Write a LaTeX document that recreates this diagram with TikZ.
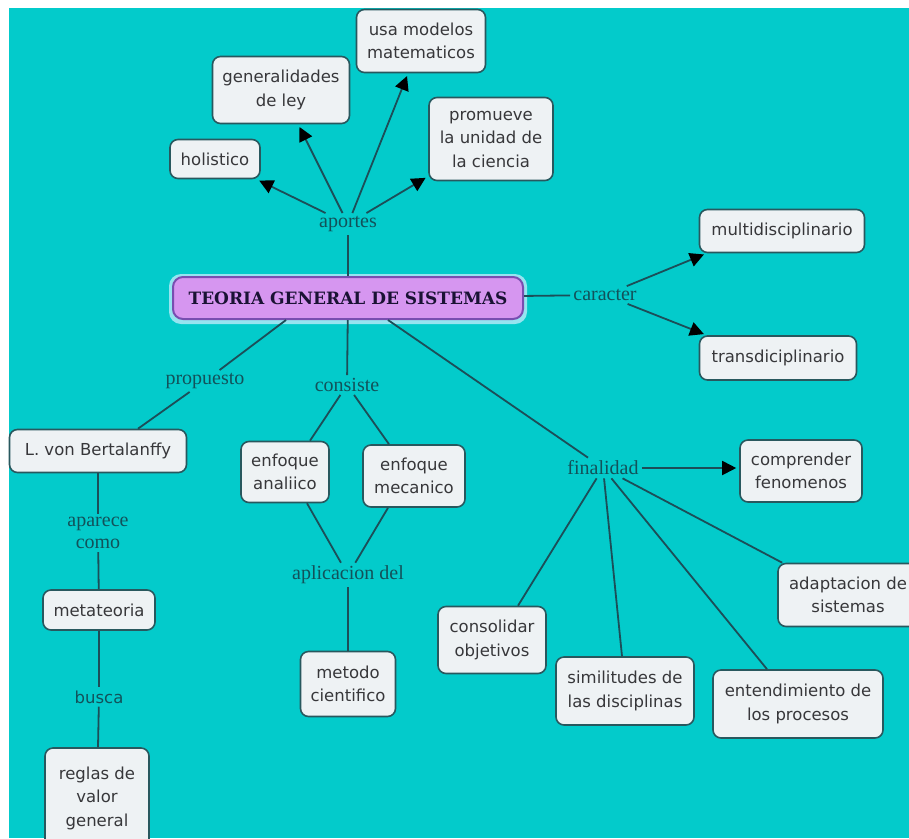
\documentclass[tikz,border=0pt]{standalone}
\usepackage{fontspec}
\setmainfont{Liberation Serif}
\newfontfamily\boxfont{DejaVu Sans}
\newfontfamily\titlefont{DejaVu Serif}
\usetikzlibrary{arrows.meta}

\definecolor{sea}{RGB}{3,203,203}
\definecolor{boxfill}{RGB}{238,242,244}
\definecolor{boxedge}{RGB}{40,88,94}
\definecolor{boxtext}{RGB}{55,55,58}
\definecolor{linkcol}{RGB}{28,78,88}
\definecolor{lblcol}{RGB}{18,82,90}
\definecolor{titlefill}{RGB}{214,150,240}
\definecolor{titleedge}{RGB}{120,78,176}
\definecolor{titletext}{RGB}{26,18,52}
\definecolor{glow}{RGB}{150,228,240}

\tikzset{
  concept/.style={draw=boxedge, line width=1.6pt, fill=boxfill, rounded corners=8pt,
    font=\boxfont\fontsize{16.5}{23.5}\selectfont, text=boxtext, align=center, inner sep=0pt},
  lbl/.style={font=\fontsize{20}{22}\selectfont, text=lblcol, inner sep=3pt, align=center},
  link/.style={draw=linkcol, line width=1.8pt},
  arrowlink/.style={link, -{Triangle[length=14pt,width=14pt,color=black]}, shorten >=3pt},
}

\begin{document}
\begin{tikzpicture}[x=1pt,y=-1pt]
\useasboundingbox (0,0) rectangle (909,838);
\fill[white] (0,0) rectangle (909,838);
\fill[sea] (9,8) rectangle (909,838);

% central concept with its light halo
\fill[glow, rounded corners=12pt] (169,274) rectangle (527,324);
\node[draw=titleedge, line width=2pt, fill=titlefill, rounded corners=10pt,
      minimum width=350pt, minimum height=42pt, inner sep=0pt, text=titletext,
      font=\titlefont\bfseries\fontsize{17}{20}\selectfont] (tgs) at (348,298)
      {TEORIA GENERAL DE SISTEMAS};

% linking phrases
\node[lbl] (aportes)   at (348,224) {aportes};
\node[lbl] (caracter)  at (605,295) {caracter};
\node[lbl] (propuesto) at (205,381) {propuesto};
\node[lbl] (consiste)  at (347,385) {consiste};
\node[lbl] (finalidad) at (603,468) {finalidad};
\node[lbl] (aparece)   at (98,533) {aparece\\como};
\node[lbl] (aplic)     at (348,575) {aplicacion del};
\node[lbl, font=\boxfont\fontsize{16.5}{20}\selectfont] (busca) at (99,697) {busca};

% concepts
\node[concept, minimum width=90pt,  minimum height=39pt] (holis)  at (215,159) {holistico};
\node[concept, minimum width=137pt, minimum height=67pt] (gener)  at (281,90)  {generalidades\\de ley};
\node[concept, minimum width=129pt, minimum height=63pt] (modelo) at (421,41)  {usa modelos\\matematicos};
\node[concept, minimum width=124pt, minimum height=83pt] (unidad) at (491,139) {promueve\\la unidad de\\la ciencia};
\node[concept, minimum width=165pt, minimum height=43pt] (multi)  at (782,231) {multidisciplinario};
\node[concept, minimum width=157pt, minimum height=44pt] (trans)  at (778,358) {transdiciplinario};
\node[concept, minimum width=177pt, minimum height=43pt] (lvb)    at (98,451)  {L. von Bertalanffy};
\node[concept, minimum width=112pt, minimum height=40pt] (meta)   at (99,610)  {metateoria};
\node[concept, minimum width=104pt, minimum height=100pt] (reglas) at (97,798) {reglas de\\valor\\general};
\node[concept, minimum width=88pt,  minimum height=61pt] (analit) at (285,472) {enfoque\\analiico};
\node[concept, minimum width=102pt, minimum height=62pt] (mecan)  at (414,476) {enfoque\\mecanico};
\node[concept, minimum width=95pt,  minimum height=65pt] (metodo) at (348,684) {metodo\\cientifico};
\node[concept, minimum width=122pt, minimum height=62pt] (compr)  at (801,471) {comprender\\fenomenos};
\node[concept, minimum width=140pt, minimum height=63pt] (adapt)  at (848,595) {adaptacion de\\sistemas};
\node[concept, minimum width=108pt, minimum height=67pt] (conso)  at (492,640) {consolidar\\objetivos};
\node[concept, minimum width=138pt, minimum height=68pt] (simil)  at (625,691) {similitudes de\\las disciplinas};
\node[concept, minimum width=170pt, minimum height=68pt] (enten)  at (798,704) {entendimiento de\\los procesos};

% aportes
\draw[link] (tgs) -- (aportes);
\draw[arrowlink] (aportes) -- (holis);
\draw[arrowlink] (aportes) -- (gener);
\draw[arrowlink] (aportes) -- (modelo);
\draw[arrowlink] (aportes) -- (unidad);

% caracter
\draw[link] (tgs) -- (caracter);
\draw[arrowlink] (caracter) -- ([xshift=8pt]multi.south west);
\draw[arrowlink] (caracter) -- ([xshift=8pt]trans.north west);

% propuesto
\draw[link] ([xshift=-62pt]tgs.south) -- (propuesto);
\draw[link] (propuesto) -- ([xshift=40pt]lvb.north);
\draw[link] (lvb) -- (aparece);
\draw[link] (aparece) -- (meta);
\draw[link] (meta) -- (busca);
\draw[link] (busca) -- (reglas);

% consiste
\draw[link] (tgs) -- (consiste);
\draw[link] (consiste) -- ([xshift=25pt]analit.north);
\draw[link] (consiste) -- ([xshift=-25pt]mecan.north);
\draw[link] ([xshift=22pt]analit.south) -- (aplic);
\draw[link] ([xshift=-26pt]mecan.south) -- (aplic);
\draw[link] (aplic) -- (metodo);

% finalidad
\draw[link] ([xshift=40pt]tgs.south) -- (finalidad);
\draw[arrowlink] (finalidad) -- (finalidad -| compr.west);
\draw[link] (finalidad) -- ([xshift=26pt]conso.north);
\draw[link] (finalidad) -- ([xshift=-3pt]simil.north);
\draw[link] (finalidad) -- ([xshift=-31pt]enten.north);
\draw[link] (finalidad) -- ([xshift=5pt]adapt.north west);
\end{tikzpicture}
\end{document}
